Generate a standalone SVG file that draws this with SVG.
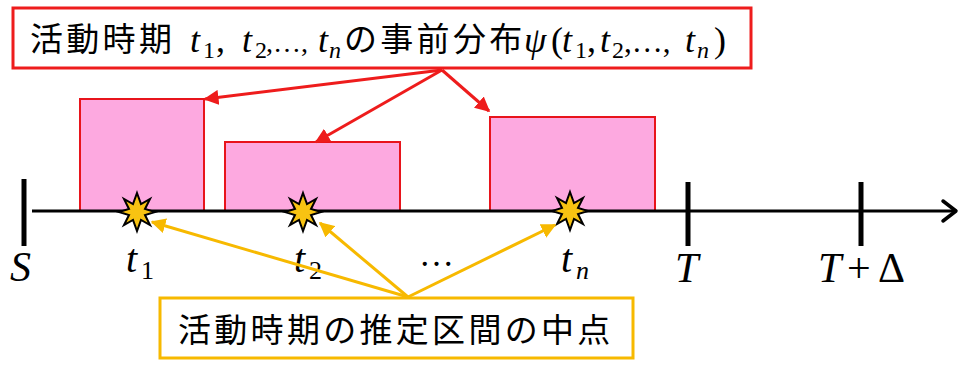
<svg xmlns="http://www.w3.org/2000/svg" width="963" height="365" viewBox="0 0 963 365">
<style>
.jp{font-family:"Noto Sans CJK JP","Noto Sans CJK SC",sans-serif;font-size:33px;letter-spacing:3.3px;fill:#000}
.m{font-family:"Liberation Serif",serif;font-style:italic;fill:#000}
.r{font-family:"Liberation Serif",serif;font-style:normal;fill:#000}
.bar{fill:#fda9e0;stroke:#e8141c;stroke-width:2}
.tick{stroke:#000;stroke-width:5}
.ra{stroke:#ee1c1c;stroke-width:3;fill:none;marker-end:url(#rh)}
.ya{stroke:#f7b900;stroke-width:3;fill:none;marker-end:url(#yh)}
.star{fill:#f8c312;stroke:#000;stroke-width:2;stroke-linejoin:miter}
</style>
<defs>
<marker id="rh" viewBox="0 0 10 10" refX="9" refY="5" markerWidth="5" markerHeight="5" orient="auto" markerUnits="strokeWidth"><path d="M0,0 L10,5 L0,10 z" fill="#ee1c1c"/></marker>
<marker id="yh" viewBox="0 0 10 10" refX="9" refY="5" markerWidth="5" markerHeight="5" orient="auto" markerUnits="strokeWidth"><path d="M0,0 L10,5 L0,10 z" fill="#f7b900"/></marker>
<path id="st" class="star" d="M0,-19 L4,-8 L13,-13 L8,-3 L18,0 L8,3 L13,13 L4,8 L0,19 L-4,8 L-13,13 L-8,3 L-18,0 L-8,-3 L-13,-13 L-4,-8 Z"/>
</defs>
<rect width="963" height="365" fill="#fff"/>
<g id="bars">
<rect id="bar1" class="bar" x="80" y="99" width="124" height="112"/>
<rect id="bar2" class="bar" x="225" y="142" width="175" height="69"/>
<rect id="bar3" class="bar" x="490" y="117" width="165" height="94"/>
</g>
<g id="axis">
<line x1="32" y1="211" x2="955" y2="211" stroke="#000" stroke-width="3"/>
<path d="M943,201 L956,211 L943,221" fill="none" stroke="#000" stroke-width="3.5" stroke-linecap="round" stroke-linejoin="round"/>
<line class="tick" x1="24" y1="179" x2="24" y2="246"/>
<line class="tick" x1="688" y1="182" x2="688" y2="246"/>
<line class="tick" x1="861" y1="182" x2="861" y2="246"/>
</g>
<g id="stars">
<use href="#st" x="137" y="212"/>
<use href="#st" x="303" y="212"/>
<use href="#st" x="570" y="211"/>
</g>
<g id="labels">
<text class="m" x="10" y="281" font-size="42">S</text>
<text class="m" x="126" y="272" font-size="40">t<tspan class="r" x="141" y="279" font-size="26">1</tspan></text>
<text class="m" x="294" y="272" font-size="40">t<tspan class="r" x="309" y="279" font-size="26">2</tspan></text>
<text class="r" x="419" y="266" font-size="35">…</text>
<text class="m" x="561" y="272" font-size="40">t<tspan x="576" y="279" font-size="26">n</tspan></text>
<text class="m" x="675" y="282" font-size="42">T</text>
<text class="m" x="818" y="282" font-size="42">T<tspan class="r" x="847">+</tspan><tspan class="r" x="878">Δ</tspan></text>
</g>
<g id="top-box">
<rect x="13" y="8" width="738" height="60" fill="#fff" stroke="#ee1c1c" stroke-width="3"/>
<text class="jp" x="30" y="51">活動時期</text>
<text class="m" font-size="36" y="52"><tspan x="190">t</tspan><tspan class="r" x="203" y="58" font-size="24">1</tspan><tspan class="r" x="216" y="52">,</tspan><tspan x="242">t</tspan><tspan class="r" x="255" y="58" font-size="24">2</tspan><tspan class="r" x="266" y="52" font-size="28">,…,</tspan><tspan x="318" font-size="36">t</tspan><tspan x="329" y="58" font-size="24">n</tspan></text>
<text class="jp" x="344" y="51">の事前分布</text>
<text class="m" font-size="36" y="52"><tspan x="524">ψ</tspan><tspan class="r" x="551">(</tspan><tspan x="562">t</tspan><tspan class="r" x="575" y="58" font-size="24">1</tspan><tspan class="r" x="587" y="52">,</tspan><tspan x="600">t</tspan><tspan class="r" x="612" y="58" font-size="24">2</tspan><tspan class="r" x="624" y="52" font-size="31">,…,</tspan><tspan x="685">t</tspan><tspan x="697" y="58" font-size="24">n</tspan><tspan class="r" x="714" y="52">)</tspan></text>
</g>
<g id="bottom-box">
<rect x="160" y="298" width="473" height="60" fill="#fff" stroke="#f7b900" stroke-width="3"/>
<text class="jp" x="178" y="342">活動時期の推定区間の中点</text>
</g>
<g id="connectors">
<line class="ra" x1="442" y1="70" x2="205" y2="99"/>
<line class="ra" x1="442" y1="70" x2="316" y2="142"/>
<line class="ra" x1="442" y1="70" x2="489" y2="111"/>
<line class="ya" x1="408" y1="297" x2="152" y2="222"/>
<line class="ya" x1="408" y1="297" x2="320" y2="223"/>
<line class="ya" x1="408" y1="297" x2="555" y2="225"/>
</g>
</svg>
